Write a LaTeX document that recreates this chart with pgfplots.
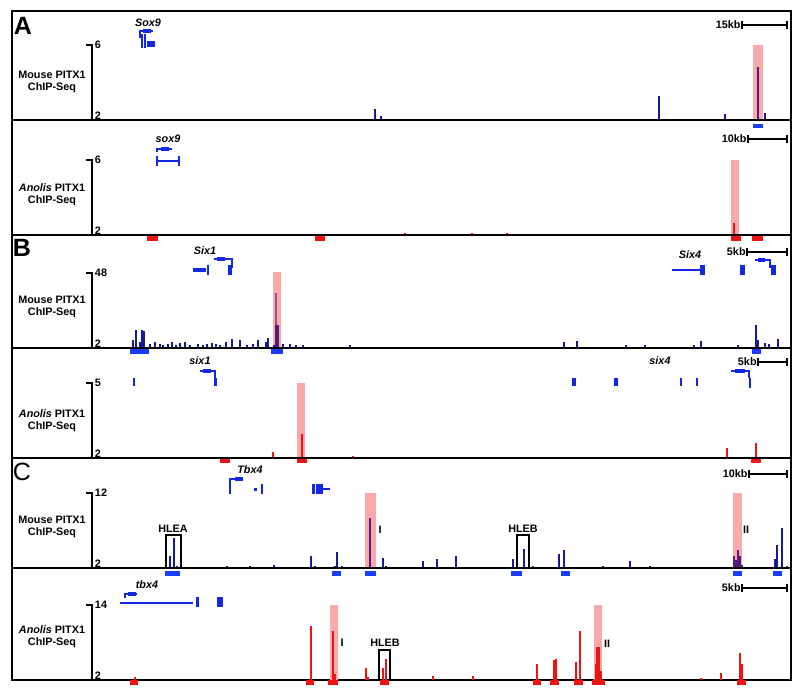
\documentclass[border=0pt]{standalone}
\usepackage{pgfplots}
\pgfplotsset{compat=1.18}
\usepackage{fontspec}
\setmainfont{Liberation Sans}
\definecolor{spk}{RGB}{25,25,150}
\definecolor{pur}{RGB}{85,25,120}
\definecolor{gene}{RGB}{20,40,225}
\definecolor{pkb}{RGB}{25,60,255}
\definecolor{rd}{RGB}{238,20,20}
\definecolor{hl}{RGB}{250,170,170}
\pgfplotsset{
  panel/.style={scale only axis, width=389.5pt, xmin=12, xmax=791, ymin=0,
    axis line style={line width=1.1pt}, xtick=\empty, ytick=\empty, clip=false, anchor=south west},
  sig/.style={ycomb, line width=0.8pt, y filter/.expression={(y-2)*#1}},
  hlt/.style={draw=none, fill=hl, y filter/.expression={(y-2)*#1}},
  pk/.style={line width=2.2pt},
  gl/.style={gene, line width=0.8pt},
  gb/.style={gene, line width=2.4pt},
}
\newcommand{\lab}{\fontsize{5.4}{6.2}\selectfont\bfseries}
\newcommand{\scalebar}[3]{% x-left, y, text
  \draw[line width=0.8pt] (axis cs:#1,#2) -- (axis cs:787,#2);
  \draw[line width=0.8pt] (axis cs:#1,#2-4) -- (axis cs:#1,#2+4);
  \draw[line width=0.8pt] (axis cs:787,#2-4) -- (axis cs:787,#2+4);
  \node[anchor=east, font=\lab, inner sep=0.5pt] at (axis cs:#1,#2) {#3};}
\newcommand{\yscale}[2]{% top label, bottom label
  \draw[line width=0.9pt] (axis cs:92,0) -- (axis cs:92,75) -- (axis cs:86,75);
  \node[anchor=west, font=\lab, inner sep=0.8pt] at (axis cs:93,75) {#1};
  \node[anchor=west, font=\lab, inner sep=0.8pt] at (axis cs:93,4) {#2};}
\begin{document}
\begin{tikzpicture}
\path[use as bounding box] (0,0) rectangle (400pt,347pt);

% ---------------- A mouse ----------------
\begin{axis}[panel, height=54.5pt, ymax=109, at={(6pt,287pt)}]
\addplot[hlt=18.75] coordinates {(753,2) (763,2) (763,6) (753,6)} --cycle;
\addplot[sig=18.75, spk] coordinates {(375,2.59) (381,2.21) (659,3.28) (725,2.32) (765,2.37)};
\addplot[sig=18.75, pur, line width=1pt] coordinates {(758,4.83)};
\addplot[pk, pkb] coordinates {(753,-6) (763,-6)};
\addplot[gl] coordinates {(140,82) (140,89) (153,89)};
\addplot[gb] coordinates {(143,89) (151,89)};
\addplot[gene, line width=1pt] coordinates {(141.5,72) (141.5,86)};
\addplot[gene, line width=1pt] coordinates {(145,72) (145,86)};
\addplot[gene, line width=3pt] coordinates {(147,76) (155,76)};
\node[font=\lab\itshape] at (axis cs:148,97) {Sox9};
\node[font=\fontsize{12.5}{13}\selectfont\bfseries] at (axis cs:23,94) {A};
\node[font=\lab, align=center] at (axis cs:52,38) {Mouse PITX1\\ChIP-Seq};
\yscale{6}{2}
\scalebar{742}{95}{15kb}
\end{axis}

% ---------------- A anolis ----------------
\begin{axis}[panel, height=57.5pt, ymax=115, at={(6pt,229.5pt)}]
\addplot[hlt=18.75] coordinates {(731,2) (739,2) (739,6) (731,6)} --cycle;
\addplot[sig=18.75, rd] coordinates {(405,2.1) (472,2.1) (507,2.1) (734,2.64)};
\addplot[pk, rd, line width=2.5pt] coordinates {(147,-4) (158,-4)};
\addplot[pk, rd, line width=2.5pt] coordinates {(315,-4) (325,-4)};
\addplot[pk, rd, line width=2.5pt] coordinates {(731,-4) (741,-4)};
\addplot[pk, rd, line width=2.5pt] coordinates {(752,-4) (763,-4)};
\addplot[gl] coordinates {(157,83) (157,86) (172,86)};
\addplot[gb] coordinates {(161,86) (169,86)};
\addplot[gl] coordinates {(157,74) (179,74)};
\addplot[gl] coordinates {(157,69) (157,79)};
\addplot[gl] coordinates {(179,69) (179,79)};
\node[font=\lab\itshape] at (axis cs:168,96) {sox9};
\node[font=\lab, align=center] at (axis cs:52,40) {\textit{Anolis} PITX1\\ChIP-Seq};
\yscale{6}{2}
\scalebar{748}{96}{10kb}
\end{axis}

% ---------------- B mouse ----------------
\begin{axis}[panel, height=56.5pt, ymax=113, at={(6pt,173pt)}]
\addplot[hlt=1.652] coordinates {(273,2) (281,2) (281,48) (273,48)} --cycle;
\addplot[sig=1.652, spk] coordinates {
 (133,6.8) (136,12.9) (140,5.6) (142,12.9) (144,12.3) (150,4.4) (155,5.6) (160,4.4) (163,3.8)
 (168,4.4) (172,5.6) (176,3.8) (180,5.0) (185,5.6) (190,3.8) (198,4.4) (203,3.8) (207,4.4)
 (212,5.0) (216,4.4) (220,3.8) (226,5.6) (232,7.4) (240,6.8) (247,3.8) (253,4.4) (258,6.8)
 (266,5.6) (268,8.1) (274,3.8) (283,4.4) (290,4.4) (296,3.8) (303,3.8) (350,3.8)
 (564,5.6) (577,6.2) (626,3.8) (645,3.8) (694,3.8) (701,6.2) (738,3.8) (756,15.9) (758,6.8)
 (765,5.0) (769,4.4) (778,7.4)};
\addplot[sig=1.652, pur!60!hl, line width=0.6pt] coordinates {(276,35.3)};
\addplot[sig=1.652, pur, line width=1.6pt] coordinates {(277,16)};
\addplot[pk, pkb, line width=2.5pt] coordinates {(130,-3.5) (149,-3.5)};
\addplot[pk, pkb, line width=2.5pt] coordinates {(271,-3.5) (283,-3.5)};
\addplot[pk, pkb, line width=2.5pt] coordinates {(752,-3.5) (761,-3.5)};
% Six1
\addplot[gb] coordinates {(193,78) (206,78)};
\addplot[gl] coordinates {(208,73) (208,83)};
\addplot[gl] coordinates {(214,89) (232,89) (232,80)};
\addplot[gb] coordinates {(217,89) (225,89)};
\addplot[gene, line width=2.4pt] coordinates {(230,73) (230,83)};
\node[font=\lab\itshape] at (axis cs:205,97) {Six1};
% Six4
\addplot[gene, line width=1.4pt] coordinates {(672,78) (700,78)};
\addplot[gene, line width=2.5pt] coordinates {(702,73) (702,83)};
\addplot[gene, line width=2.5pt] coordinates {(742.5,73) (742.5,83)};
\addplot[gl] coordinates {(755,88) (770,88) (770,80)};
\addplot[gb] coordinates {(758,88) (765,88)};
\addplot[gene, line width=2.5pt] coordinates {(773,73) (773,83)};
\node[font=\lab\itshape] at (axis cs:690,93) {Six4};
\node[font=\fontsize{12.5}{13}\selectfont\bfseries] at (axis cs:22,100) {B};
\node[font=\lab, align=center] at (axis cs:52,41) {Mouse PITX1\\ChIP-Seq};
\yscale{48}{2}
\scalebar{747}{96}{5kb}
\end{axis}

% ---------------- B anolis ----------------
\begin{axis}[panel, height=55pt, ymax=110, at={(6pt,118pt)}]
\addplot[hlt=25] coordinates {(297,2) (305,2) (305,5) (297,5)} --cycle;
\addplot[sig=25, rd] coordinates {(273,2.24) (302,2.96) (353,2.08) (727,2.4) (756,2.6)};
\addplot[pk, rd, line width=2.5pt] coordinates {(220,-3) (230,-3)};
\addplot[pk, rd, line width=2.5pt] coordinates {(297,-3) (307,-3)};
\addplot[pk, rd, line width=2.5pt] coordinates {(751,-3) (761,-3)};
% six1
\addplot[gene, line width=1pt] coordinates {(134,72) (134,80)};
\addplot[gl] coordinates {(200,87) (215,87) (215,80)};
\addplot[gb] coordinates {(203,87) (211,87)};
\addplot[gene, line width=1.5pt] coordinates {(215.5,72) (215.5,80)};
\node[font=\lab\itshape] at (axis cs:200,97) {six1};
% six4
\addplot[gene, line width=2pt] coordinates {(574,72) (574,80)};
\addplot[gene, line width=2pt] coordinates {(616,72) (616,80)};
\addplot[gene, line width=1pt] coordinates {(681,72) (681,80)};
\addplot[gene, line width=1pt] coordinates {(697,72) (697,80)};
\addplot[gl] coordinates {(731,87) (749,87) (749,80)};
\addplot[gb] coordinates {(735,87) (745,87)};
\addplot[gene, line width=1pt] coordinates {(750,70) (750,80)};
\node[font=\lab\itshape] at (axis cs:660,97) {six4};
\node[font=\lab, align=center] at (axis cs:52,37) {\textit{Anolis} PITX1\\ChIP-Seq};
\yscale{5}{2}
\scalebar{758}{96}{5kb}
\end{axis}

% ---------------- C mouse ----------------
\begin{axis}[panel, height=55pt, ymax=110, at={(6pt,63pt)}]
\addplot[hlt=7.5] coordinates {(365,2) (376,2) (376,12) (365,12)} --cycle;
\addplot[hlt=7.5] coordinates {(733,2) (742,2) (742,12) (733,12)} --cycle;
\addplot[sig=7.5, spk] coordinates {
 (170,3.6) (174,6.0) (177,2.3) (227,2.27) (250,2.27) (274,2.4) (311,3.6) (315,2.3) (335,2.3)
 (337,4.1) (342,2.3) (383,3.3) (386,2.2) (423,2.9) (437,3.2) (456,3.6) (513,3.2)
 (524,4.5) (533,2.27) (559,3.9) (564,4.4) (603,2.27) (630,2.9) (650,2.27)
 (775,3.2) (777,5.1) (782,7.3) (787,2.3)};
\addplot[sig=7.5, pur, line width=1pt] coordinates {(370,8.7) (734,3.6) (736,3.0) (738,4.4) (740,3.6) (742,2.4)};
\addplot[line width=0.9pt] coordinates {(166,0) (166,33) (181,33) (181,0)};
\addplot[line width=0.9pt] coordinates {(517,0) (517,33) (529,33) (529,0)};
\foreach \a/\b in {165/180, 332/341, 365/376, 511/522, 561/570, 733/742, 773/782}{
  \edef\tmp{\noexpand\addplot[pk, pkb] coordinates {(\a,-5.5) (\b,-5.5)};}\tmp}
\node[font=\lab] at (axis cs:173,39) {HLEA};
\node[font=\lab] at (axis cs:523,39) {HLEB};
\node[font=\lab] at (axis cs:380,38) {I};
\node[font=\lab] at (axis cs:746,38) {II};
% Tbx4
\addplot[gl] coordinates {(230,84) (230,89) (243,89)};
\addplot[gb] coordinates {(235,89) (243,89)};
\addplot[gene, line width=1.4pt] coordinates {(230,74) (230,84)};
\addplot[gene, line width=1.5pt] coordinates {(255,77) (255,80)};
\addplot[gene, line width=1.2pt] coordinates {(262,74) (262,84)};
\addplot[gene, line width=1.5pt] coordinates {(313,74) (313,84)};
\addplot[gene, line width=1.5pt] coordinates {(317,74) (317,84)};
\addplot[gene, line width=2pt] coordinates {(321,74) (321,84)};
\addplot[gene, line width=1.2pt] coordinates {(322,79) (330,79)};
\node[font=\lab\itshape] at (axis cs:250,98) {Tbx4};
\node[font=\fontsize{12.5}{13}\selectfont] at (axis cs:22,96) {C};
\node[font=\lab, align=center] at (axis cs:52,41) {Mouse PITX1\\ChIP-Seq};
\yscale{12}{2}
\scalebar{749}{94}{10kb}
\end{axis}

% ---------------- C anolis ----------------
\begin{axis}[panel, height=56pt, ymax=112, at={(6pt,7pt)}]
\addplot[hlt=6.25] coordinates {(330,2) (338,2) (338,14) (330,14)} --cycle;
\addplot[hlt=6.25] coordinates {(594,2) (602,2) (602,14) (594,14)} --cycle;
\addplot[sig=6.25, rd, line width=1pt] coordinates {
 (135,2.5) (311,10.6) (333,9.8) (335,3) (366,3.9) (368,2.5) (383,3.9) (386,5.4) (433,2.6)
 (473,2.6) (537,4.6) (554,5.2) (556,5.4) (576,4.9) (580,9.8) (596,4.6) (597,7.3) (599,7.3)
 (601,3.5) (701,2.3) (721,3.1) (740,6.3) (742,4.6)};
\addplot[line width=0.9pt] coordinates {(379,0) (379,30) (390,30) (390,0)};
\foreach \a/\b in {130/138, 306/314, 328/338, 380/389, 533/541, 550/559, 574/583, 592/605, 737/746}{
  \edef\tmp{\noexpand\addplot[pk, rd, line width=2.5pt] coordinates {(\a,-3) (\b,-3)};}\tmp}
\node[font=\lab] at (axis cs:385,37) {HLEB};
\node[font=\lab] at (axis cs:342,37) {I};
\node[font=\lab] at (axis cs:607,36) {II};
% tbx4
\addplot[gl] coordinates {(125,82) (125,86) (137,86)};
\addplot[gb] coordinates {(128,86) (136,86)};
\addplot[gene, line width=0.9pt] coordinates {(120,77) (193,77)};
\addplot[gene, line width=1.5pt] coordinates {(197,73) (197,83)};
\addplot[gene, line width=3pt] coordinates {(220,73) (220,83)};
\node[font=\lab\itshape] at (axis cs:147,95) {tbx4};
\node[font=\lab, align=center] at (axis cs:52,43) {\textit{Anolis} PITX1\\ChIP-Seq};
\yscale{14}{2}
\scalebar{742}{92}{5kb}
\end{axis}
\end{tikzpicture}
\end{document}
